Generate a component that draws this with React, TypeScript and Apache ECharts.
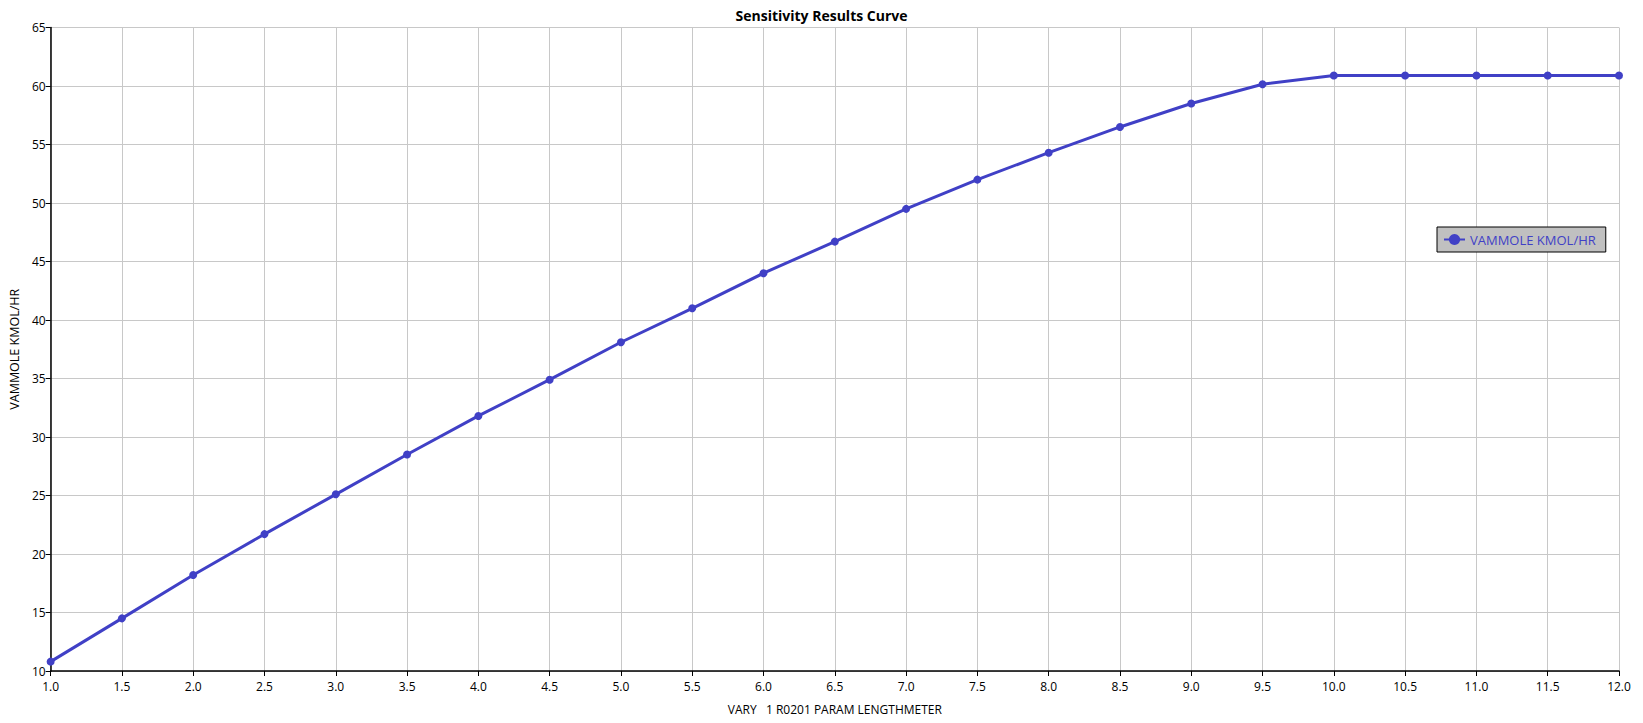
import React, { useEffect, useRef } from "react";
import * as echarts from "echarts";

const xValues = [1.0, 1.5, 2.0, 2.5, 3.0, 3.5, 4.0, 4.5, 5.0, 5.5, 6.0, 6.5, 7.0, 7.5, 8.0, 8.5, 9.0, 9.5, 10.0, 10.5, 11.0, 11.5, 12.0];
const yValues = [10.8, 14.5, 18.2, 21.7, 25.1, 28.5, 31.8, 34.9, 38.1, 41.0, 44.0, 46.7, 49.5, 52.0, 54.3, 56.5, 58.5, 60.15, 60.9, 60.9, 60.9, 60.9, 60.9];
const seriesName = "VAMMOLE KMOL/HR";
const titleText = "Sensitivity Results Curve";
const xAxisName = "VARY   1 R0201 PARAM LENGTHMETER";
const yAxisName = "VAMMOLE KMOL/HR";

const FONT = "'Open Sans', 'Noto Sans', sans-serif";
const BLUE = "#4040c6";

export default function App() {
  const ref = useRef<HTMLDivElement>(null);
  useEffect(() => {
    document.body.style.margin = "0";
    const chart = echarts.init(ref.current!, null, { renderer: "svg" });
    chart.setOption({
      animation: false,
      backgroundColor: "#ffffff",
      textStyle: { fontFamily: FONT },
      title: {
        text: titleText,
        left: "center",
        top: 3,
        textStyle: { fontSize: 14, fontWeight: "bold", color: "#000", fontFamily: FONT },
      },
      legend: {
        left: 1437,
        top: 227,
        backgroundColor: "#c0c0c0",
        borderColor: "#000",
        borderWidth: 1,
        borderRadius: 0,
        padding: [6, 10, 6, 6],
        itemWidth: 21,
        itemHeight: 14,
        itemGap: 6,
        textStyle: { color: BLUE, fontSize: 13, fontFamily: FONT },
        data: [seriesName],
      },
      grid: { left: 43, right: 24, top: 27.5, bottom: 52, containLabel: false },
      xAxis: {
        type: "value",
        min: 1,
        max: 12,
        interval: 0.5,
        name: xAxisName,
        nameLocation: "middle",
        nameGap: 32,
        nameTextStyle: { color: "#000", fontSize: 12, fontFamily: FONT },
        axisLine: { show: true, lineStyle: { color: "#000", width: 1.5 } },
        axisTick: { show: true, length: 5, lineStyle: { color: "#000" } },
        axisLabel: {
          color: "#000",
          fontSize: 12,
          margin: 9,
          fontFamily: FONT,
          formatter: (v: number) => v.toFixed(1),
        },
        splitLine: { show: true, lineStyle: { color: "#c8c8c8", width: 1 } },
      },
      yAxis: {
        type: "value",
        min: 10,
        max: 65,
        interval: 5,
        name: yAxisName,
        nameLocation: "middle",
        nameGap: 27,
        nameTextStyle: { color: "#000", fontSize: 12.5, fontFamily: FONT },
        axisLine: { show: true, lineStyle: { color: "#000", width: 1.5 } },
        axisTick: { show: true, length: 5, lineStyle: { color: "#000" } },
        axisLabel: { color: "#000", fontSize: 12, margin: 5, fontFamily: FONT },
        splitLine: { show: true, lineStyle: { color: "#c8c8c8", width: 1 } },
      },
      series: [
        {
          name: seriesName,
          type: "line",
          data: xValues.map((x, i) => [x, yValues[i]]),
          symbol: "circle",
          symbolSize: 8,
          showAllSymbol: true,
          clip: false,
          lineStyle: { color: BLUE, width: 3 },
          itemStyle: { color: BLUE },
        },
      ],
    });
    return () => chart.dispose();
  }, []);
  return (
    <div
      ref={ref}
      style={{ position: "absolute", left: 0, top: 0, width: 1643, height: 723 }}
    />
  );
}
